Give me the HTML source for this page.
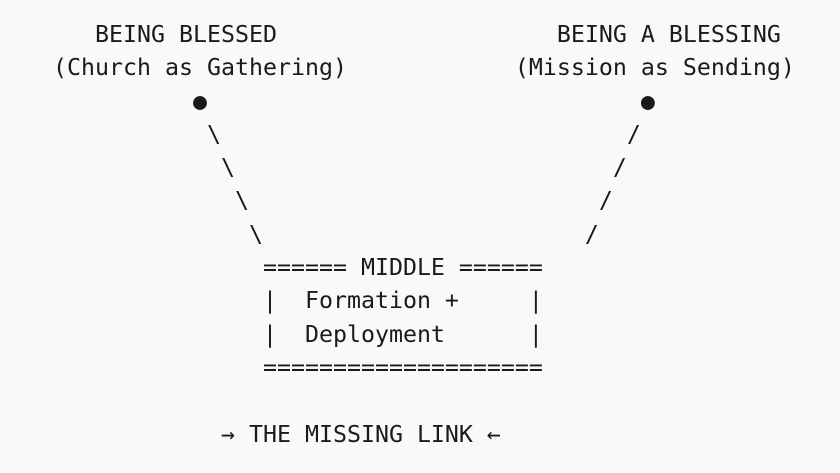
<!DOCTYPE html>
<html><head><meta charset="utf-8"><style>
html,body{margin:0;padding:0;width:840px;height:473px;background:#f9f9f9;overflow:hidden}
pre{position:absolute;left:53px;top:18px;margin:0;font-family:"DejaVu Sans Mono","Liberation Mono",monospace;font-size:23.25px;line-height:33.3px;color:#1a1a1a}
</style></head><body>
<pre>   BEING BLESSED                    BEING A BLESSING
(Church as Gathering)            (Mission as Sending)
          ●                               ●
           \                             /
            \                           /
             \                         /
              \                       /
               ====== MIDDLE ======
               |  Formation +     |
               |  Deployment      |
               ====================

            → THE MISSING LINK ←</pre>
</body></html>
